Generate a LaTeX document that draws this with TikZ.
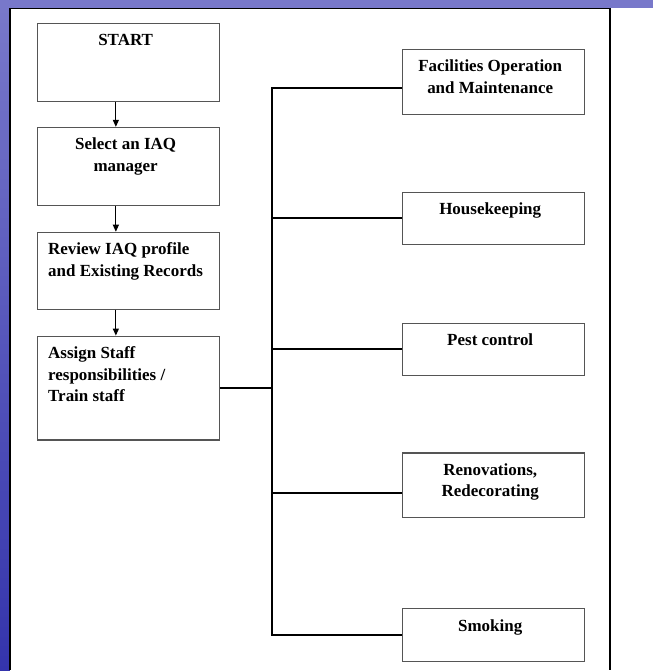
\documentclass[tikz,border=0pt]{standalone}
\usepackage{fontspec}
\setmainfont{Liberation Serif}
\usetikzlibrary{arrows.meta, calc}
\definecolor{slidetop}{RGB}{120,120,202}
\definecolor{slidebot}{RGB}{52,52,172}
\definecolor{boxline}{HTML}{555555}
\tikzset{
  taskbox/.style={draw=boxline, line width=1.1pt, fill=white, anchor=north west,
                  inner sep=0pt, minimum width=182.5pt},
  tasktext/.style={inner sep=0pt, yshift=-11pt, text=black,
                   font=\fontsize{17}{21.5}\selectfont\bfseries},
  lbl north/.style={align=center, xshift=-3pt},
  lbl north west/.style={align=left, xshift=11pt},
  flowarrow/.style={-{Triangle[length=7pt, width=6pt]}, line width=1.1pt, black},
  branch/.style={line width=2pt, black},
}
\newcommand{\taskbox}[6]{%
  \node[taskbox, minimum height=#4pt,
        label={[tasktext, anchor=#5, lbl #5]#5:{#6}}] (#1) at (#2,#3) {};}

\begin{document}
\begin{tikzpicture}[x=1pt, y=-1pt]
  % slide background and white panel
  \fill[white] (0,0) rectangle (654,671);
  \fill[slidetop] (0,0) rectangle (654,8);
  \shade[top color=slidetop, bottom color=slidebot] (0,8) rectangle (10,671);
  \draw[line width=1.6pt] (10,671) -- (10,8.5) -- (611,8.5) -- (611,671);

  % left column
  \taskbox{start}{37}{23}{78}{north}{START}
  \taskbox{select}{37}{127}{78}{north}{Select an IAQ\\manager}
  \taskbox{review}{37}{232}{77}{north west}{Review IAQ profile\\and Existing Records}
  \taskbox{assign}{37}{336}{104}{north west}{Assign Staff\\responsibilities /\\Train staff}

  % right column
  \taskbox{facil}{402}{49}{65}{north}{Facilities Operation\\and Maintenance}
  \taskbox{house}{402}{192}{52}{north}{Housekeeping}
  \taskbox{pest}{402}{323}{52}{north}{Pest control}
  \taskbox{renov}{402}{453}{65}{north}{Renovations,\\Redecorating}
  \taskbox{smoke}{402}{609}{53}{north}{Smoking}

  \draw[flowarrow] ([xshift=79pt]start.south west) -- ([xshift=79pt]select.north west);
  \draw[flowarrow] ([xshift=79pt]select.south west) -- ([xshift=79pt]review.north west);
  \draw[flowarrow] ([xshift=79pt]review.south west) -- ([xshift=79pt]assign.north west);

  % branches
  \coordinate (trunk) at (272,0);
  \draw[branch] (assign.east) -- (assign.east -| trunk);
  \draw[branch, line cap=rect] ([yshift=-6.5pt]facil.west -| trunk) -- (smoke.west -| trunk);
  \draw[branch] ([yshift=-6.5pt]facil.west) -- ([yshift=-6.5pt]facil.west -| trunk);
  \draw[branch] (house.west) -- (house.west -| trunk);
  \draw[branch] (pest.west) -- (pest.west -| trunk);
  \draw[branch] ([yshift=-7.5pt]renov.west) -- ([yshift=-7.5pt]renov.west -| trunk);
  \draw[branch] (smoke.west) -- (smoke.west -| trunk);
  \useasboundingbox (0,0) rectangle (654,671);
\end{tikzpicture}
\end{document}
